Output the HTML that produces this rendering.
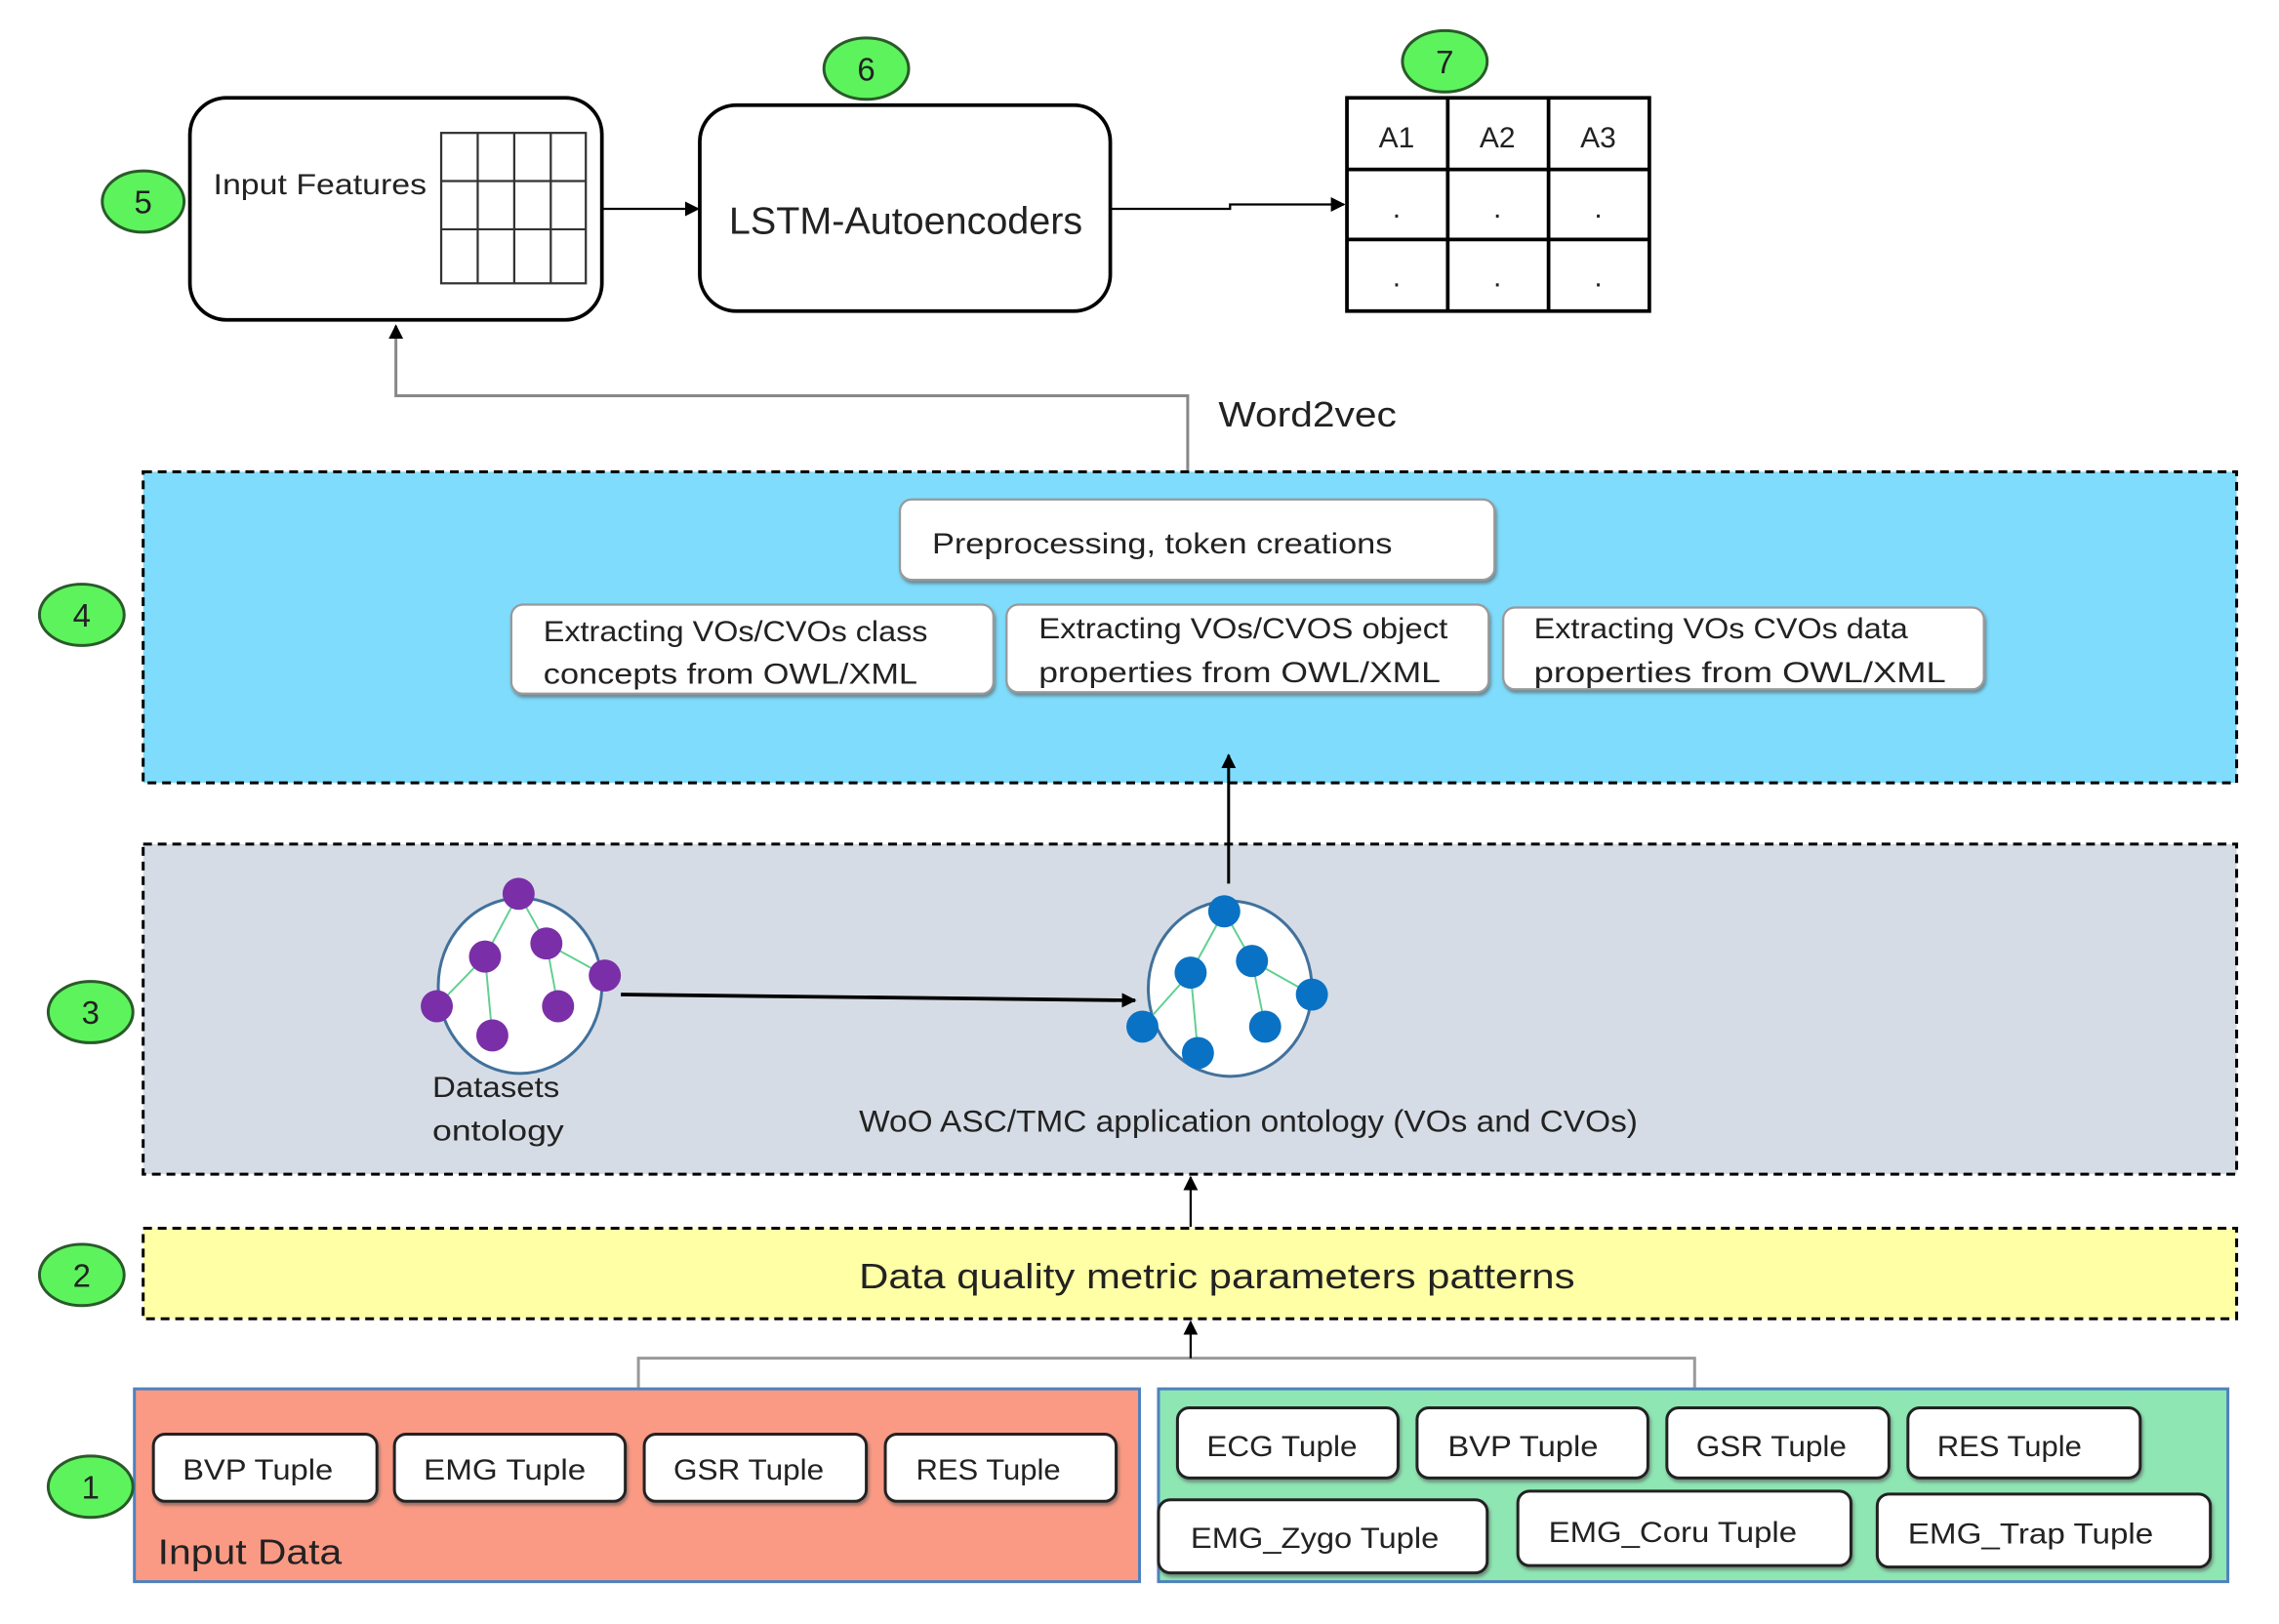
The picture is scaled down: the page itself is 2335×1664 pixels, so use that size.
<!DOCTYPE html>
<html><head><meta charset="utf-8"><style>html,body{margin:0;padding:0;background:#fff}svg{display:block}text{font-family:"Liberation Sans",sans-serif;fill:#222}</style></head>
<body>
<svg width="2335" height="1664" viewBox="0 0 1560 1112" preserveAspectRatio="none" xmlns="http://www.w3.org/2000/svg">
<defs>
<marker id="ah" markerWidth="10" markerHeight="10" refX="9" refY="5" orient="auto" markerUnits="userSpaceOnUse"><path d="M0,0 L10,5 L0,10 z" fill="#000"/></marker>
<filter id="sh"><feDropShadow dx="1" dy="2" stdDeviation="1" flood-color="#555" flood-opacity="0.6"/></filter>
</defs>
<rect width="1560" height="1112" fill="#fff"/>

<rect x="98" y="323" width="1433" height="213" fill="#7fdcfc" stroke="#000" stroke-width="2" stroke-dasharray="6,4"/>
<rect x="98" y="578" width="1433" height="226" fill="#d6dce5" stroke="#000" stroke-width="2" stroke-dasharray="6,4"/>
<rect x="98" y="841" width="1433" height="62" fill="#ffffa6" stroke="#000" stroke-width="2" stroke-dasharray="6,4"/>

<rect x="130" y="67" width="282" height="152" rx="25" fill="#fff" stroke="#000" stroke-width="2.5"/>
<text x="146" y="133" font-size="20" textLength="146" lengthAdjust="spacingAndGlyphs">Input Features</text>
<g stroke="#333" stroke-width="1.5" fill="none">
<rect x="302" y="91" width="99" height="103"/>
<line x1="327" y1="91" x2="327" y2="194"/><line x1="352" y1="91" x2="352" y2="194"/><line x1="377" y1="91" x2="377" y2="194"/>
<line x1="302" y1="124" x2="401" y2="124"/><line x1="302" y1="157" x2="401" y2="157"/>
</g>
<line x1="412" y1="143" x2="478" y2="143" stroke="#000" stroke-width="1.5" marker-end="url(#ah)"/>
<rect x="479" y="72" width="281" height="141" rx="25" fill="#fff" stroke="#000" stroke-width="2.5"/>
<text x="620" y="160" font-size="26" text-anchor="middle" textLength="242" lengthAdjust="spacingAndGlyphs">LSTM-Autoencoders</text>
<polyline points="760,143 842,143 842,140 920,140" fill="none" stroke="#000" stroke-width="1.5" marker-end="url(#ah)"/>
<g stroke="#000" stroke-width="2.5" fill="#fff">
<rect x="922" y="67" width="207" height="146"/>
<line x1="991" y1="67" x2="991" y2="213"/><line x1="1060" y1="67" x2="1060" y2="213"/>
<line x1="922" y1="116" x2="1129" y2="116"/><line x1="922" y1="164" x2="1129" y2="164"/>
</g>
<g font-size="20" text-anchor="middle"><text x="956" y="101">A1</text><text x="1025" y="101">A2</text><text x="1094" y="101">A3</text>
<text x="956" y="149">.</text><text x="1025" y="149">.</text><text x="1094" y="149">.</text>
<text x="956" y="196">.</text><text x="1025" y="196">.</text><text x="1094" y="196">.</text></g>

<polyline points="813,322 813,271 271,271 271,223" fill="none" stroke="#888" stroke-width="2" marker-end="url(#ah)"/>
<text x="834" y="292" font-size="24" textLength="122" lengthAdjust="spacingAndGlyphs">Word2vec</text>

<g filter="url(#sh)" fill="#fff" stroke="#999" stroke-width="1.5">
<rect x="616" y="342" width="407" height="55" rx="8"/>
<rect x="350" y="414" width="330" height="61" rx="8"/>
<rect x="689" y="414" width="330" height="60" rx="8"/>
<rect x="1029" y="416" width="329" height="56" rx="8"/>
</g>
<g font-size="20">
<text x="638" y="379" textLength="315" lengthAdjust="spacingAndGlyphs">Preprocessing,  token creations</text>
<text x="372" y="439" textLength="263" lengthAdjust="spacingAndGlyphs">Extracting VOs/CVOs class</text>
<text x="372" y="468" textLength="256" lengthAdjust="spacingAndGlyphs">concepts from OWL/XML</text>
<text x="711" y="437" textLength="280" lengthAdjust="spacingAndGlyphs">Extracting VOs/CVOS object</text>
<text x="711" y="467" textLength="275" lengthAdjust="spacingAndGlyphs">properties  from OWL/XML</text>
<text x="1050" y="437" textLength="256" lengthAdjust="spacingAndGlyphs">Extracting VOs CVOs data</text>
<text x="1050" y="467" textLength="282" lengthAdjust="spacingAndGlyphs">properties  from  OWL/XML</text>
</g>
<line x1="841" y1="605" x2="841" y2="517" stroke="#000" stroke-width="2" marker-end="url(#ah)"/>

<ellipse cx="356" cy="675" rx="56" ry="60" fill="#fff" stroke="#41719c" stroke-width="2"/>
<g stroke="#5fd08f" stroke-width="1.3"><line x1="355" y1="612" x2="332" y2="655"/><line x1="355" y1="612" x2="374" y2="646"/><line x1="374" y1="646" x2="414" y2="668"/><line x1="374" y1="646" x2="382" y2="689"/><line x1="332" y1="655" x2="299" y2="689"/><line x1="332" y1="655" x2="337" y2="709"/></g>
<g fill="#7a2fa8"><circle cx="355" cy="612" r="11"/><circle cx="332" cy="655" r="11"/><circle cx="374" cy="646" r="11"/><circle cx="414" cy="668" r="11"/><circle cx="299" cy="689" r="11"/><circle cx="382" cy="689" r="11"/><circle cx="337" cy="709" r="11"/></g>
<line x1="425" y1="681" x2="777" y2="685" stroke="#000" stroke-width="2.5" marker-end="url(#ah)"/>
<ellipse cx="842" cy="677" rx="56" ry="60" fill="#fff" stroke="#41719c" stroke-width="2"/>
<g stroke="#5fd08f" stroke-width="1.3"><line x1="838" y1="624" x2="815" y2="666"/><line x1="838" y1="624" x2="857" y2="658"/><line x1="857" y1="658" x2="898" y2="681"/><line x1="857" y1="658" x2="866" y2="703"/><line x1="815" y1="666" x2="782" y2="703"/><line x1="815" y1="666" x2="820" y2="721"/></g>
<g fill="#0a72c4"><circle cx="838" cy="624" r="11"/><circle cx="815" cy="666" r="11"/><circle cx="857" cy="658" r="11"/><circle cx="898" cy="681" r="11"/><circle cx="782" cy="703" r="11"/><circle cx="866" cy="703" r="11"/><circle cx="820" cy="721" r="11"/></g>
<text x="296" y="751" font-size="20" textLength="87" lengthAdjust="spacingAndGlyphs">Datasets</text>
<text x="296" y="781" font-size="20" textLength="90" lengthAdjust="spacingAndGlyphs">ontology</text>
<text x="588" y="775" font-size="21" textLength="533" lengthAdjust="spacingAndGlyphs">WoO  ASC/TMC application ontology (VOs and CVOs)</text>

<line x1="815" y1="840" x2="815" y2="806" stroke="#000" stroke-width="1.5" marker-end="url(#ah)"/>
<text x="833" y="882" font-size="24" text-anchor="middle" textLength="490" lengthAdjust="spacingAndGlyphs">Data quality metric parameters  patterns</text>

<polyline points="437,950 437,930 1160,930 1160,950" fill="none" stroke="#999" stroke-width="2"/>
<line x1="815" y1="930" x2="815" y2="905" stroke="#000" stroke-width="1.5" marker-end="url(#ah)"/>

<rect x="92" y="951" width="688" height="132" fill="#fb9a84" stroke="#4f81bd" stroke-width="2"/>
<rect x="793" y="951" width="732" height="132" fill="#8ee6b3" stroke="#4f81bd" stroke-width="2"/>
<g filter="url(#sh)" fill="#fff" stroke="#222" stroke-width="2">
<rect x="105" y="982" width="153" height="46" rx="8"/><rect x="270" y="982" width="158" height="46" rx="8"/><rect x="441" y="982" width="152" height="46" rx="8"/><rect x="606" y="982" width="158" height="46" rx="8"/>
<rect x="806" y="964" width="151" height="48" rx="8"/><rect x="970" y="964" width="158" height="48" rx="8"/><rect x="1141" y="964" width="152" height="48" rx="8"/><rect x="1306" y="964" width="159" height="48" rx="8"/>
<rect x="793" y="1027" width="225" height="50" rx="8"/><rect x="1039" y="1021" width="228" height="51" rx="8"/><rect x="1285" y="1023" width="228" height="50" rx="8"/>
</g>
<g font-size="20">
<text x="125" y="1013" textLength="103" lengthAdjust="spacingAndGlyphs">BVP Tuple</text>
<text x="290" y="1013" textLength="111" lengthAdjust="spacingAndGlyphs">EMG Tuple</text>
<text x="461" y="1013" textLength="103" lengthAdjust="spacingAndGlyphs">GSR Tuple</text>
<text x="627" y="1013" textLength="99" lengthAdjust="spacingAndGlyphs">RES Tuple</text>
<text x="826" y="997" textLength="103" lengthAdjust="spacingAndGlyphs">ECG Tuple</text>
<text x="991" y="997" textLength="103" lengthAdjust="spacingAndGlyphs">BVP Tuple</text>
<text x="1161" y="997" textLength="103" lengthAdjust="spacingAndGlyphs">GSR Tuple</text>
<text x="1326" y="997" textLength="99" lengthAdjust="spacingAndGlyphs">RES Tuple</text>
<text x="815" y="1060" textLength="170" lengthAdjust="spacingAndGlyphs">EMG_Zygo Tuple</text>
<text x="1060" y="1056" textLength="170" lengthAdjust="spacingAndGlyphs">EMG_Coru Tuple</text>
<text x="1306" y="1057" textLength="168" lengthAdjust="spacingAndGlyphs">EMG_Trap Tuple</text>
</g>
<text x="108" y="1071" font-size="24" textLength="126" lengthAdjust="spacingAndGlyphs">Input Data</text>

<g fill="#5df35d" stroke="#2a5a2a" stroke-width="2">
<ellipse cx="98" cy="138" rx="28" ry="21"/><ellipse cx="593" cy="47" rx="29" ry="21"/><ellipse cx="989" cy="42" rx="29" ry="21"/>
<ellipse cx="56" cy="421" rx="29" ry="21"/><ellipse cx="62" cy="693" rx="29" ry="21"/><ellipse cx="56" cy="873" rx="29" ry="21"/><ellipse cx="62" cy="1018" rx="29" ry="21"/>
</g>
<g font-size="22" text-anchor="middle">
<text x="98" y="146">5</text><text x="593" y="55">6</text><text x="989" y="50">7</text>
<text x="56" y="429">4</text><text x="62" y="701">3</text><text x="56" y="881">2</text><text x="62" y="1026">1</text>
</g>
</svg>
</body></html>
